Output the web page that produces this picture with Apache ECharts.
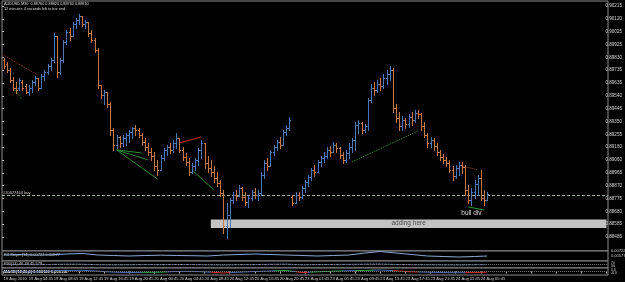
<!DOCTYPE html>
<html><head><meta charset="utf-8">
<script src="https://cdn.jsdelivr.net/npm/echarts@6/dist/echarts.min.js"></script>
<style>html,body{margin:0;padding:0;background:#000;overflow:hidden}#c{width:625px;height:282px}</style>
</head><body><div id="c"></div>
<script>
// ---------- data ----------
const xTickLabels = ["19 Aug 2010","19 Aug 04:45","19 Aug 08:45","19 Aug 12:45","19 Aug 16:45","19 Aug 20:45","20 Aug 00:45","20 Aug 04:45","20 Aug 08:45","20 Aug 12:45","20 Aug 16:45","20 Aug 20:45","23 Aug 01:45","23 Aug 05:45","23 Aug 09:45","23 Aug 13:45","23 Aug 17:45","23 Aug 21:45","24 Aug 01:45","24 Aug 05:45"];
const yTickLabels = ["0.90215","0.90120","0.90025","0.89925","0.89830","0.89735","0.89635","0.89540","0.89445","0.89350","0.89255","0.89160","0.89060","0.88965","0.88870","0.88775","0.88680","0.88585","0.88485"];
const totalSlots = 193;

const opens = [
0.89810,0.89780,0.89735,0.89660,0.89600,0.89600,0.89645,0.89615,0.89570,0.89600,
0.89645,0.89675,0.89600,0.89690,0.89720,0.89765,0.89810,0.89990,0.89720,0.89810,
0.89945,0.90020,0.89990,0.90080,0.90110,0.90140,0.90080,0.90095,0.90012,0.89960,
0.89885,0.89622,0.89547,0.89570,0.89480,0.89285,0.89172,0.89232,0.89187,0.89225,
0.89247,0.89270,0.89300,0.89285,0.89247,0.89195,0.89157,0.89120,0.89090,0.89015,
0.88985,0.89075,0.89135,0.89157,0.89135,0.89187,0.89225,0.89135,0.89082,0.89045,
0.88970,0.89015,0.89060,0.89135,0.89187,0.89037,0.89000,0.88970,0.88925,0.88887,
0.88812,0.88565,0.88647,0.88760,0.88797,0.88790,0.88850,0.88782,0.88745,0.88775,
0.88820,0.88797,0.88812,0.88947,0.89037,0.89015,0.89120,0.89157,0.89195,0.89172,
0.89270,0.89300,0.88782,0.88737,0.88797,0.88782,0.88850,0.88895,0.88932,0.88985,
0.88970,0.89045,0.89075,0.89090,0.89135,0.89120,0.89172,0.89150,0.89097,0.89060,
0.89112,0.89157,0.89210,0.89322,0.89337,0.89285,0.89315,0.89510,0.89600,0.89585,
0.89630,0.89615,0.89675,0.89705,0.89735,0.89450,0.89375,0.89315,0.89360,0.89330,
0.89382,0.89360,0.89412,0.89405,0.89315,0.89247,0.89187,0.89210,0.89165,0.89120,
0.89082,0.89060,0.89037,0.88985,0.88940,0.89000,0.89022,0.89007,0.88835,0.88760,
0.88820,0.88880,0.88925,0.88775,0.88760];
const closes = [
0.89765,0.89735,0.89660,0.89600,0.89585,0.89660,0.89600,0.89570,0.89600,0.89645,
0.89675,0.89600,0.89690,0.89720,0.89765,0.89810,0.89990,0.89720,0.89810,0.89945,
0.90020,0.89990,0.90080,0.90110,0.90140,0.90080,0.90095,0.90012,0.89960,0.89885,
0.89622,0.89547,0.89570,0.89480,0.89285,0.89172,0.89232,0.89187,0.89225,0.89247,
0.89270,0.89300,0.89285,0.89247,0.89195,0.89157,0.89120,0.89090,0.89015,0.88985,
0.89075,0.89135,0.89157,0.89135,0.89187,0.89225,0.89135,0.89082,0.89045,0.88970,
0.89015,0.89060,0.89135,0.89187,0.89037,0.89000,0.88970,0.88925,0.88887,0.88812,
0.88565,0.88647,0.88760,0.88797,0.88790,0.88850,0.88782,0.88745,0.88775,0.88820,
0.88797,0.88812,0.88947,0.89037,0.89015,0.89120,0.89157,0.89195,0.89172,0.89270,
0.89300,0.89360,0.88737,0.88797,0.88782,0.88850,0.88895,0.88932,0.88985,0.88970,
0.89045,0.89075,0.89090,0.89135,0.89120,0.89172,0.89150,0.89097,0.89060,0.89112,
0.89157,0.89210,0.89322,0.89337,0.89285,0.89315,0.89510,0.89600,0.89585,0.89630,
0.89615,0.89675,0.89705,0.89735,0.89450,0.89375,0.89315,0.89360,0.89330,0.89382,
0.89360,0.89412,0.89405,0.89315,0.89247,0.89187,0.89210,0.89165,0.89120,0.89082,
0.89060,0.89037,0.88985,0.88940,0.89000,0.89022,0.89007,0.88835,0.88760,0.88820,
0.88880,0.88925,0.88775,0.88760,0.88810];
const lows = [
0.89750,0.89720,0.89645,0.89585,0.89562,0.89585,0.89585,0.89562,0.89547,0.89570,
0.89622,0.89585,0.89600,0.89660,0.89705,0.89735,0.89795,0.89682,0.89705,0.89795,
0.89930,0.89960,0.89990,0.90050,0.90080,0.90065,0.90050,0.89990,0.89945,0.89870,
0.89600,0.89525,0.89480,0.89457,0.89247,0.89135,0.89150,0.89157,0.89165,0.89172,
0.89195,0.89225,0.89247,0.89232,0.89172,0.89135,0.89097,0.89060,0.88985,0.88947,
0.88985,0.89060,0.89097,0.89112,0.89120,0.89150,0.89120,0.89060,0.89022,0.88947,
0.88962,0.88985,0.89022,0.89075,0.89000,0.88970,0.88940,0.88895,0.88865,0.88790,
0.88512,0.88475,0.88557,0.88737,0.88760,0.88790,0.88760,0.88722,0.88707,0.88760,
0.88775,0.88760,0.88797,0.88925,0.88985,0.89015,0.89097,0.89135,0.89150,0.89172,
0.89247,0.89285,0.88722,0.88737,0.88760,0.88775,0.88820,0.88865,0.88910,0.88940,
0.88970,0.89015,0.89045,0.89075,0.89090,0.89120,0.89120,0.89075,0.89037,0.89045,
0.89075,0.89120,0.89135,0.89262,0.89262,0.89270,0.89285,0.89495,0.89547,0.89570,
0.89585,0.89600,0.89630,0.89660,0.89420,0.89345,0.89285,0.89285,0.89300,0.89307,
0.89322,0.89345,0.89375,0.89285,0.89232,0.89157,0.89157,0.89135,0.89097,0.89060,
0.89037,0.89015,0.88970,0.88910,0.88925,0.88947,0.88962,0.88797,0.88737,0.88722,
0.88775,0.88797,0.88760,0.88722,0.88760];
const highs = [
0.89825,0.89795,0.89750,0.89682,0.89645,0.89675,0.89660,0.89630,0.89622,0.89660,
0.89690,0.89675,0.89705,0.89735,0.89780,0.89825,0.90012,0.89990,0.89825,0.89960,
0.90035,0.90050,0.90095,0.90125,0.90155,0.90140,0.90110,0.90095,0.90035,0.89975,
0.89900,0.89622,0.89585,0.89570,0.89495,0.89300,0.89247,0.89240,0.89247,0.89262,
0.89285,0.89307,0.89322,0.89300,0.89262,0.89225,0.89187,0.89150,0.89120,0.89060,
0.89097,0.89150,0.89172,0.89187,0.89210,0.89262,0.89225,0.89157,0.89112,0.89075,
0.89037,0.89075,0.89150,0.89210,0.89187,0.89090,0.89060,0.89015,0.88970,0.88910,
0.88835,0.88737,0.88775,0.88820,0.88835,0.88872,0.88857,0.88820,0.88797,0.88835,
0.88850,0.88835,0.88970,0.89060,0.89075,0.89135,0.89172,0.89210,0.89232,0.89285,
0.89322,0.89382,0.88797,0.88820,0.88820,0.88865,0.88910,0.88947,0.89000,0.89022,
0.89060,0.89090,0.89120,0.89157,0.89165,0.89195,0.89187,0.89157,0.89120,0.89135,
0.89187,0.89225,0.89345,0.89360,0.89345,0.89330,0.89525,0.89630,0.89645,0.89660,
0.89675,0.89705,0.89735,0.89765,0.89750,0.89480,0.89420,0.89390,0.89375,0.89405,
0.89420,0.89435,0.89435,0.89412,0.89345,0.89262,0.89232,0.89225,0.89187,0.89135,
0.89105,0.89082,0.89060,0.89015,0.89022,0.89045,0.89045,0.89022,0.88872,0.88850,
0.88910,0.88947,0.88985,0.88835,0.88820];

// trend lines drawn on chart: [barIndex, price] pairs
const trendLines = [
  [[0, 0.89847], [11, 0.89697]],
  [[3, 0.89607], [6, 0.89510]],
  [[36, 0.89137], [44, 0.89114]],
  [[36, 0.89137], [46, 0.89062]],
  [[36, 0.89137], [49, 0.88919]],
  [[56, 0.89189], [63, 0.89234]],
  [[60, 0.88987], [67, 0.88837]],
  [[111, 0.89047], [132, 0.89279]],
  [[145, 0.89024], [151, 0.88987]],
  [[148, 0.88710], [153, 0.88687]]
];
const orderPrice = 0.88800;
const currentPrice = 0.88810;
const zoneBars = [66, 192];
const zonePrices = [0.88616, 0.88553];
const noteBar = 149, notePrice = 0.88665;

// indicator panels (sampled every 5 bars)
const indIdx = [0,5,10,15,20,25,30,35,40,45,50,55,60,65,70,75,80,85,90,95,100,105,110,115,120,125,130,135,140,145,150,154];
const ind1Val = [1,1.5,1,1.2,2,2.5,1,0.5,0,0.5,0.8,0.5,0.3,0,1,1.5,2,1.5,1,0.5,0,0.5,1,3,4.5,3,1.5,0,-0.5,-1,-0.5,0];
const ind2Val = [52,50,48,51,55,54,47,44,46,48,47,50,49,45,42,47,49,53,56,44,48,51,52,55,58,50,47,45,44,43,46,48];
const ind3Val = [0.1,0,-0.1,0.1,0.3,0.35,0.1,-0.2,-0.3,-0.25,-0.2,0,0.05,-0.15,-0.4,-0.2,0,0.15,0.3,-0.3,-0.1,0.1,0.2,0.3,0.45,0.2,-0.1,-0.2,-0.3,-0.35,-0.3,-0.2];

// ---------- styles ----------
const UP = '#4a78b6', DOWN = '#c4783f', DOJI = '#b0b0b0';
const lineStyles = [
  {color:'#9a3a2a', type:'dotted'}, {color:'#2f8a34', type:'dotted'},
  {color:'#2e8a34', type:'solid'}, {color:'#2e8a34', type:'solid'}, {color:'#2e8a34', type:'solid'},
  {color:'#c8372b', type:'solid'}, {color:'#2e8a34', type:'solid'},
  {color:'#3a9a3a', type:'dotted'}, {color:'#a0522d', type:'dotted'}, {color:'#2e9a34', type:'solid'}
];
const FONT = 'Liberation Sans, Arial, sans-serif';

const cats = Array.from({length: totalSlots}, (_, i) => 'c' + i);
const bars = opens.map((o, i) => [i, o, closes[i], lows[i], highs[i]]);
const pairs = vals => indIdx.map((x, k) => [x, vals[k]]);

function renderBar(params, api) {
  const i = api.value(0), o = api.value(1), c = api.value(2), l = api.value(3), h = api.value(4);
  const ph = api.coord([i, h]), pl = api.coord([i, l]), po = api.coord([i, o]), pc = api.coord([i, c]);
  const x = Math.round(ph[0]) + 0.5;
  const col = c > o ? UP : (c < o ? DOWN : DOJI);
  const st = {stroke: col, lineWidth: 1};
  const yo = Math.round(po[1]) + 0.5, yc = Math.round(pc[1]) + 0.5;
  return {type: 'group', children: [
    {type: 'line', shape: {x1: x, y1: Math.round(ph[1]), x2: x, y2: Math.round(pl[1]) + 1}, style: st},
    {type: 'line', shape: {x1: x - 1.5, y1: yo, x2: x, y2: yo}, style: st},
    {type: 'line', shape: {x1: x, y1: yc, x2: x + 1.5, y2: yc}, style: st}
  ]};
}

const chart = echarts.init(document.getElementById('c'), null, {renderer: 'canvas'});
const gridBase = {left: 2, right: 17, show: true, borderColor: '#8c8c8c', borderWidth: 1, backgroundColor: '#000'};
const hiddenCat = (gi) => ({type: 'category', gridIndex: gi, data: cats, boundaryGap: true,
  axisLine: {show: false}, axisTick: {show: false}, axisLabel: {show: false}, splitLine: {show: false}});
const hiddenVal = (gi, min, max) => ({type: 'value', gridIndex: gi, min, max, show: false, splitLine: {show: false}});

const option = {
  backgroundColor: '#000',
  animation: false,
  textStyle: {fontFamily: FONT},
  grid: [
    Object.assign({}, gridBase, {top: 1, height: 250}),
    Object.assign({}, gridBase, {top: 251, height: 10}),
    Object.assign({}, gridBase, {top: 261, height: 7}),
    Object.assign({}, gridBase, {top: 268, height: 7}),
    {left: 2, right: 17, top: 6, height: 231, show: false}
  ],
  xAxis: [
    hiddenCat(0), hiddenCat(1), hiddenCat(2),
    {type: 'category', gridIndex: 3, data: cats, boundaryGap: true,
      axisLine: {show: false},
      axisTick: {show: true, interval: 7, alignWithLabel: true, length: 2, lineStyle: {color: '#bbb'}},
      axisLabel: {show: true, interval: 7, align: 'left', margin: 2, fontSize: 4.1, color: '#d0d0d0', fontFamily: FONT,
        formatter: (v, idx) => (idx % 8 === 0 && idx / 8 < xTickLabels.length) ? xTickLabels[idx / 8] : ''},
      splitLine: {show: false}},
    {type: 'value', gridIndex: 4, min: 0, max: 1, show: false}
  ],
  yAxis: [
    hiddenVal(0, 0.88380, 0.90252),
    hiddenVal(1, -5, 5),
    hiddenVal(2, 0, 100),
    hiddenVal(3, -1, 1),
    {type: 'value', gridIndex: 4, min: 0, max: 18, interval: 1, position: 'right',
      axisLine: {show: false},
      axisTick: {show: true, length: 2, lineStyle: {color: '#bbb'}},
      axisLabel: {fontSize: 4.6, color: '#d4d4d4', margin: 2, fontFamily: FONT,
        formatter: v => yTickLabels[18 - Math.round(v)] || ''},
      splitLine: {show: false}}
  ],
  visualMap: [{
    type: 'piecewise', show: false, seriesIndex: 4, dimension: 0,
    pieces: [
      {min: 44, max: 52, color: '#2fa84f'}, {min: 66, max: 72, color: '#d0302a'},
      {min: 86, max: 92, color: '#2fa84f'}, {min: 93, max: 97, color: '#d0302a'},
      {min: 98, max: 108, color: '#2fa84f'}, {min: 112, max: 118, color: '#2fa84f'},
      {min: 124, max: 132, color: '#d0302a'}, {min: 147, max: 154, color: '#d0302a'}
    ],
    outOfRange: {color: '#4a6fb0'}
  }],
  series: [
    {type: 'custom', name: 'price', xAxisIndex: 0, yAxisIndex: 0, z: 5,
      renderItem: renderBar, encode: {x: 0, y: [1, 2, 3, 4]}, data: bars, clip: true},
    {type: 'scatter', name: 'marks', xAxisIndex: 0, yAxisIndex: 0, z: 2, data: [], silent: true,
      markArea: {silent: true, z: 1, data: [[
        {xAxis: zoneBars[0], yAxis: zonePrices[0], itemStyle: {color: '#c3c3c3'},
          label: {show: true, position: 'inside', formatter: 'adding here', color: '#4a4a4a', fontSize: 6.5, fontFamily: FONT}},
        {xAxis: zoneBars[1], yAxis: zonePrices[1]}
      ]]},
      markLine: {silent: true, symbol: ['none', 'none'], animation: false, precision: 5,
        data: trendLines.map((seg, k) => [
          {coord: seg[0], lineStyle: {color: lineStyles[k].color, type: lineStyles[k].type, width: 1}, label: {show: false}},
          {coord: seg[1]}
        ]).concat([
          {yAxis: orderPrice, lineStyle: {color: '#9fb09f', type: [3, 2], width: 1},
            label: {show: true, position: 'insideStartTop', distance: [1, 0], formatter: '#20627464 buy',
              color: '#d8d8d8', fontSize: 4, fontFamily: FONT}},
          {yAxis: currentPrice, lineStyle: {opacity: 0},
            label: {show: true, position: 'end', distance: 2, formatter: currentPrice.toFixed(5),
              backgroundColor: '#f2f2f2', color: '#000', fontSize: 4.6, padding: [0, 1], fontFamily: FONT}}
        ])},
      markPoint: {silent: true, data: [
        {coord: [noteBar, notePrice], symbol: 'circle', symbolSize: 1, itemStyle: {color: 'rgba(0,0,0,0)'},
          label: {show: true, position: 'inside', formatter: 'bull div', color: '#dcdcdc', fontSize: 6.5, fontFamily: FONT}}
      ]}
    },
    {type: 'line', xAxisIndex: 1, yAxisIndex: 1, data: pairs(ind1Val), showSymbol: false, silent: true,
      lineStyle: {color: '#8aa8d0', width: 1}},
    {type: 'line', xAxisIndex: 2, yAxisIndex: 2, data: pairs(ind2Val), showSymbol: false, silent: true,
      lineStyle: {color: '#7090c8', width: 1, type: [2, 1]},
      markLine: {silent: true, symbol: ['none', 'none'], label: {show: false},
        lineStyle: {color: '#777', type: [1, 1], width: 1}, data: [{yAxis: 50}]}},
    {type: 'line', xAxisIndex: 3, yAxisIndex: 3, data: pairs(ind3Val), showSymbol: false, silent: true,
      lineStyle: {width: 1},
      markLine: {silent: true, symbol: ['none', 'none'], label: {show: false},
        lineStyle: {color: '#777', type: [1, 1], width: 1}, data: [{yAxis: 0}]}}
  ],
  graphic: [
    {type: 'text', left: 4, top: 2, silent: true,
      style: {text: 'AUDUSD,M30  0.88760 0.88820 0.88760 0.88810\n12 minutes 4 seconds left to bar end',
        fill: '#dcdcdc', font: '3.8px ' + FONT, lineHeight: 4.5}},
    {type: 'text', left: 4, top: 253, silent: true,
      style: {text: 'FX Sniper(14) 0.00722 0.00577', fill: '#cfcfcf', font: '4px ' + FONT}},
    {type: 'text', left: 4, top: 262, silent: true,
      style: {text: 'RSI(14) 46.48 45.578', fill: '#cfcfcf', font: '4px ' + FONT}},
    {type: 'text', left: 4, top: 269.5, silent: true,
      style: {text: 'MACD(12,26,9) 0.000120 0.000195', fill: '#ffffff', font: 'bold 4px ' + FONT}},
    {type: 'text', left: 611, top: 248.5, silent: true,
      style: {text: '0.00722', fill: '#d0d0d0', font: '4px ' + FONT}},
    {type: 'text', left: 611, top: 254, silent: true,
      style: {text: '0.00577', fill: '#d0d0d0', font: '4px ' + FONT}},
    {type: 'text', left: 611, top: 261.5, silent: true,
      style: {text: '70\n30', fill: '#d0d0d0', font: '3.5px ' + FONT, lineHeight: 3}},
    {type: 'text', left: 611, top: 268.5, silent: true,
      style: {text: '0.0\n-0.0', fill: '#d0d0d0', font: '3.5px ' + FONT, lineHeight: 3}}
  ]
};
chart.setOption(option);
</script>
</body></html>
